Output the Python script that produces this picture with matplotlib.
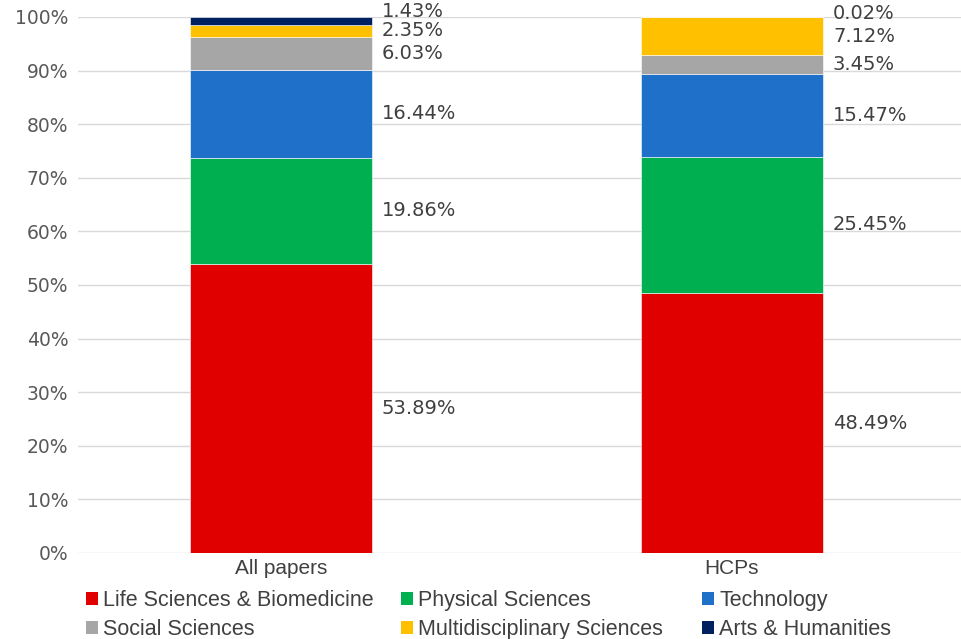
import numpy as np
import matplotlib.pyplot as plt
from matplotlib.patches import Patch

plt.rcParams['font.family'] = ['Liberation Sans', 'DejaVu Sans']

groups = ["All papers", "HCPs"]
fields = ["Life Sciences & Biomedicine", "Physical Sciences", "Technology",
          "Social Sciences", "Multidisciplinary Sciences", "Arts & Humanities"]
life_sci = [53.89, 48.49]
physical = [19.86, 25.45]
technology = [16.44, 15.47]
social = [6.03, 3.45]
multidisc = [2.35, 7.12]
arts = [1.43, 0.02]

colors = ["#E00000", "#00B050", "#1F70C8", "#A6A6A6", "#FFC000", "#002060"]
series = [life_sci, physical, technology, social, multidisc, arts]

fig = plt.figure(figsize=(9.61, 6.39), dpi=100)
ax = fig.add_axes([78 / 961, 1 - 553 / 639, 1 - 78 / 961, 536 / 639])

x = np.arange(len(groups))
width = 0.404
bottom = np.zeros(len(groups))
label_y = [[] for _ in groups]
for vals, c in zip(series, colors):
    vals = np.array(vals)
    ax.bar(x, vals, width, bottom=bottom, color=c, edgecolor="white",
           linewidth=0.4, zorder=2)
    for i in range(len(groups)):
        label_y[i].append(bottom[i] + vals[i] / 2)
    bottom += vals

# spread labels upward so the thin top segments don't overlap
for i in range(len(groups)):
    prev = -10
    for k, vals in enumerate(series):
        y = min(max(label_y[i][k], prev + 4.2), 101)
        prev = y
        ax.text(x[i] + width / 2 + 0.022, y, f"{vals[i]:.2f}%", va="center",
                ha="left", fontsize=14, color="#404040", family="DejaVu Sans")

ax.set_xlim(-0.450, 1.508)
ax.set_ylim(0, 100)
ax.set_yticks(np.arange(0, 101, 10))
ax.set_yticklabels([f"{v}%" for v in range(0, 101, 10)], family="DejaVu Sans")
ax.set_xticks(x)
ax.set_xticklabels(groups)
ax.tick_params(axis="y", length=0, pad=7, labelsize=13.5, labelcolor="#595959")
ax.tick_params(axis="x", length=0, pad=4, labelsize=15, labelcolor="#404040")
ax.yaxis.grid(True, color="#D9D9D9", linewidth=1, zorder=0)
ax.set_axisbelow(True)
for s in ax.spines.values():
    s.set_visible(False)

# legend laid out in three columns under the axis
handles = [Patch(facecolor=c, label=f) for f, c in zip(fields, colors)]
col_x = [86 / 961, 401 / 961, 702 / 961]
for j in range(3):
    fig.legend(handles=[handles[j], handles[j + 3]], loc="upper left",
               bbox_to_anchor=(col_x[j], 1 - 590 / 639), frameon=False,
               fontsize=15.5, handlelength=0.55, handleheight=0.55,
               handletextpad=0.25, labelspacing=0.38, borderpad=0,
               borderaxespad=0, labelcolor="#404040")

fig.savefig("out.png", dpi=100)
